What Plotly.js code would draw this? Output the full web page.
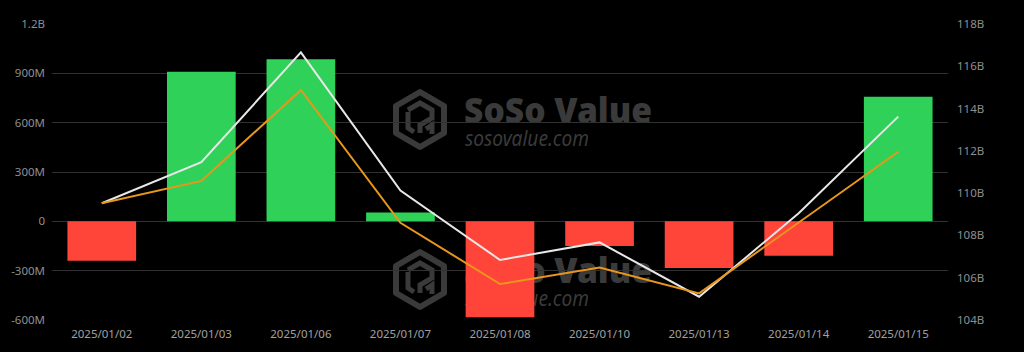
<!DOCTYPE html>
<html>
<head>
<meta charset="utf-8">
<script src="https://cdn.plot.ly/plotly-3.0.1.min.js"></script>
<style>
  html, body { margin: 0; padding: 0; background: #000; }
  #chart { width: 1024px; height: 352px; }
</style>
</head>
<body>
<div id="chart"></div>
<script>
// ---- Data ----
const dates = ['2025/01/02','2025/01/03','2025/01/06','2025/01/07','2025/01/08','2025/01/10','2025/01/13','2025/01/14','2025/01/15'];
// Daily net inflow, millions USD (left axis)
const netInflowM = [-240, 909, 986, 53, -583, -150, -284, -209, 757];
// Right-axis series, billions USD
const totalNetAssetsB = [109.52, 111.46, 116.66, 110.12, 106.84, 107.67, 105.10, 109.05, 113.62];
const secondSeriesB   = [109.52, 110.58, 114.88, 108.60, 105.70, 106.48, 105.26, 108.62, 111.96];
// Tick labels
const leftTickVals = [-600, -300, 0, 300, 600, 900, 1200];
const leftTickText = ['-600M', '-300M', '0', '300M', '600M', '900M', '1.2B'];
const rightTickVals = [104, 106, 108, 110, 112, 114, 116, 118];
const rightTickText = ['104B', '106B', '108B', '110B', '112B', '114B', '116B', '118B'];

const GREEN = '#30d158';
const RED = '#ff453a';

const barColors = netInflowM.map(v => v >= 0 ? GREEN : RED);

// Watermark (SVG drawn below the traces)
function wm(dy) {
  const c = '#3a3a3a';
  return `<g transform="translate(0,${dy})">
    <polygon points="420,92 444,106 444,133 420,147 396,133 396,106" fill="none" stroke="${c}" stroke-width="6" stroke-linejoin="round"/>
    <path d="M408,110 L420,103 L432,110 L432,118 L420,125 L420,133" fill="none" stroke="${c}" stroke-width="5" stroke-linejoin="miter"/>
    <path d="M408,112 L408,128 L414,132" fill="none" stroke="${c}" stroke-width="5"/>
    <path d="M426,129 L432,125 L432,134" fill="none" stroke="${c}" stroke-width="5"/>
    <text x="464" y="123" font-family="Noto Sans, Open Sans, sans-serif" font-weight="900" font-size="36" fill="${c}" textLength="188" lengthAdjust="spacingAndGlyphs">SoSo Value</text>
    <text x="465" y="146" font-family="Noto Sans, Open Sans, sans-serif" font-style="italic" font-size="21" fill="${c}" textLength="124" lengthAdjust="spacingAndGlyphs">sosovalue.com</text>
  </g>`;
}
const svg = `<svg xmlns="http://www.w3.org/2000/svg" width="1024" height="352" viewBox="0 0 1024 352">${wm(0)}${wm(160)}</svg>`;
const svgUri = 'data:image/svg+xml;charset=utf-8,' + encodeURIComponent(svg);

const mL = 52, mR = 76, mT = 24, mB = 32;
const pw = 1024 - mL - mR, ph = 352 - mT - mB;

const traces = [
  {
    type: 'bar',
    x: dates,
    y: netInflowM,
    marker: { color: barColors, line: { width: 0 } },
    name: 'Daily Net Inflow',
    yaxis: 'y',
    hoverinfo: 'x+y'
  },
  {
    type: 'scatter',
    mode: 'lines',
    x: dates,
    y: totalNetAssetsB,
    line: { color: '#e8e8e8', width: 2 },
    name: 'Total Net Assets',
    yaxis: 'y2'
  },
  {
    type: 'scatter',
    mode: 'lines',
    x: dates,
    y: secondSeriesB,
    line: { color: '#e8961c', width: 2 },
    name: 'Cumulative Value',
    yaxis: 'y2'
  }
];

const tickFont = { family: 'Noto Sans, Open Sans, sans-serif', size: 11.5, color: '#8f8f8f' };

const layout = {
  width: 1024,
  height: 352,
  margin: { l: mL, r: mR, t: mT, b: mB, pad: 0 },
  paper_bgcolor: '#000000',
  plot_bgcolor: 'rgba(0,0,0,0)',
  showlegend: false,
  bargap: 0.31,
  xaxis: {
    type: 'category',
    tickfont: { family: 'Noto Sans, Open Sans, sans-serif', size: 11.5, color: '#a0a0a0' },
    showgrid: false,
    zeroline: false,
    showline: false,
    ticks: '',
    ticklabelstandoff: 5
  },
  yaxis: {
    range: [-600, 1200],
    tickvals: leftTickVals,
    ticktext: leftTickText,
    tickfont: tickFont,
    showgrid: true,
    gridcolor: '#313131',
    gridwidth: 1,
    zeroline: false,
    showline: false,
    ticks: '',
    ticklabelstandoff: 6
  },
  yaxis2: {
    overlaying: 'y',
    side: 'right',
    range: [104, 118],
    tickvals: rightTickVals,
    ticktext: rightTickText,
    tickfont: tickFont,
    showgrid: false,
    zeroline: false,
    showline: false,
    ticks: '',
    ticklabelstandoff: 8
  },
  images: [{
    source: svgUri,
    xref: 'paper', yref: 'paper',
    x: -mL / pw, y: 1 + mT / ph,
    sizex: 1024 / pw, sizey: 352 / ph,
    xanchor: 'left', yanchor: 'top',
    sizing: 'stretch',
    layer: 'below'
  }]
};

Plotly.newPlot('chart', traces, layout, { displayModeBar: false, staticPlot: true });
</script>
</body>
</html>
